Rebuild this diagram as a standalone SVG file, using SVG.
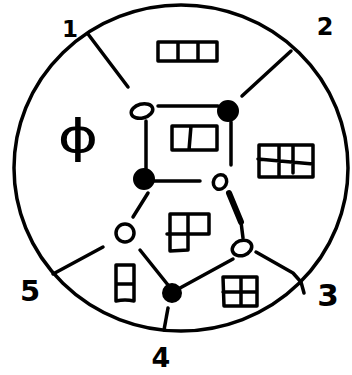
<svg xmlns="http://www.w3.org/2000/svg" width="352" height="375" viewBox="0 0 352 375">
<style>
.s{fill:none;stroke:#000;stroke-width:3.5;stroke-linecap:round;stroke-linejoin:round}
.o{fill:#fff;stroke:#000;stroke-width:3.5}
.f{fill:#000;stroke:#000;stroke-width:2}
.t{font-family:"DejaVu Sans",sans-serif;fill:#000;text-anchor:middle}
.b{font-weight:bold}
</style>
<rect width="352" height="375" fill="#fff"/>
<g id="boundary">
<ellipse class="s" cx="181" cy="168" rx="167" ry="163"/>
</g>
<g id="connectors">
<line class="s" x1="88" y1="34" x2="128" y2="87"/>
<line class="s" x1="291" y1="51" x2="242" y2="96"/>
<polyline class="s" points="256,252 293,273 301,282 304,293"/>
<line class="s" x1="168" y1="308" x2="164" y2="330"/>
<line class="s" x1="103" y1="247" x2="53" y2="274"/>
<line class="s" x1="158" y1="106" x2="218" y2="106"/>
<line class="s" x1="146" y1="121" x2="146" y2="169"/>
<line class="s" x1="231" y1="122" x2="231" y2="165"/>
<line class="s" x1="154" y1="181" x2="200" y2="181"/>
<line class="s" x1="229" y1="193" x2="241" y2="222" style="stroke-width:6"/>
<line class="s" x1="241" y1="222" x2="243" y2="238"/>
<line class="s" x1="148" y1="193" x2="133" y2="217"/>
<line class="s" x1="140" y1="250" x2="168" y2="285"/>
<line class="s" x1="180" y1="288" x2="233" y2="259"/>
</g>
<g id="v1"><ellipse class="o" cx="142" cy="111" rx="11" ry="7" transform="rotate(-15 142 111)"/></g>
<g id="v2"><circle class="f" cx="228" cy="111" r="10"/></g>
<g id="v3"><circle class="f" cx="144" cy="179" r="10"/></g>
<g id="v4"><ellipse class="o" cx="220" cy="182" rx="6.5" ry="7.5" transform="rotate(25 220 182)"/></g>
<g id="v5"><circle class="o" cx="125" cy="233" r="9"/></g>
<g id="v6"><circle class="f" cx="172" cy="293" r="9"/></g>
<g id="v7"><ellipse class="o" cx="242" cy="248" rx="10" ry="7.5" transform="rotate(-20 242 248)"/></g>
<g id="yd-top"><path class="s" d="M158,42 H217 V61 H158 Z M178,42 V61 M198,42 V61"/></g>
<g id="yd-center"><path class="s" d="M172,126 H217 V150 H172 Z M191,126 L189,150"/></g>
<g id="yd-right"><path class="s" d="M259,145 H313 V177 H259 Z M258,159 L313,164 M279,145 V177 M293,145 V173"/></g>
<g id="yd-lower"><path class="s" d="M170,214 H209 V234 M167,234 H209 M170,214 V251 L188,250 M188,214 V250"/></g>
<g id="yd-left"><path class="s" d="M116,265 H134 V301 Q125,299 116,301 Z M116,284 H134"/></g>
<g id="yd-bottom"><path class="s" d="M223,277 H257 V306 H224 Z M223,292 H257 M241,277 V306"/></g>
<g id="labels">
<text class="t" transform="translate(78,152) scale(1.35,1)" style="font-size:46px">ϕ</text>
<text class="t b" x="70" y="37" style="font-size:23px">1</text>
<text class="t b" x="325" y="35" style="font-size:24px">2</text>
<text class="t b" x="328" y="306" style="font-size:31px">3</text>
<text class="t b" x="161" y="367" style="font-size:27px">4</text>
<text class="t b" x="30" y="301" style="font-size:29px">5</text>
</g>
</svg>
